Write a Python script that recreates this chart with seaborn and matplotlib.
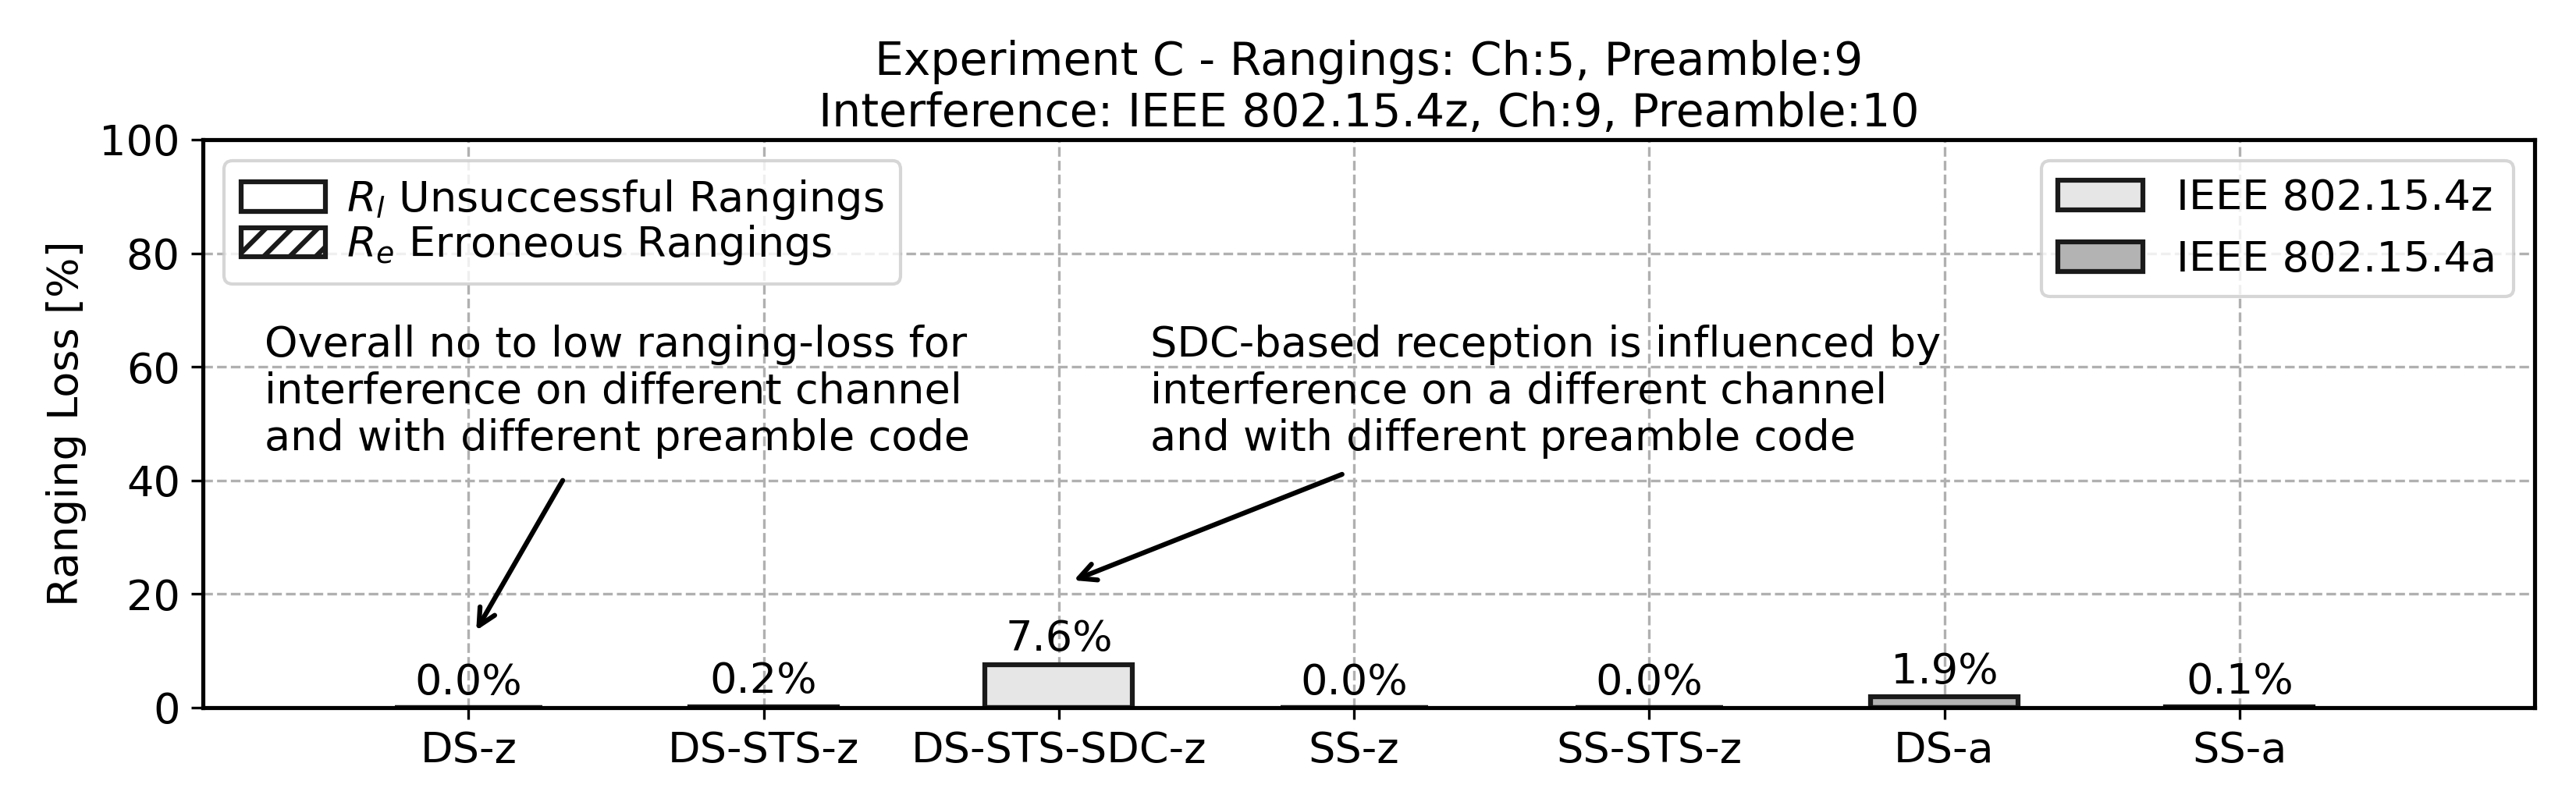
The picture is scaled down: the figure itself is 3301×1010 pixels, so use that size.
import numpy as np
import pandas as pd
import matplotlib
matplotlib.use("Agg")
import matplotlib.pyplot as plt
from matplotlib.patches import Patch
import seaborn as sns

# data
configs = ["DS-z", "DS-STS-z", "DS-STS-SDC-z", "SS-z", "SS-STS-z", "DS-a", "SS-a"]
standard = ["IEEE 802.15.4z"] * 5 + ["IEEE 802.15.4a"] * 2
loss_unsuccessful = [0.0, 0.2, 7.6, 0.0, 0.0, 1.9, 0.1]
loss_erroneous = [0.0, 0.0, 0.0, 0.0, 0.0, 0.0, 0.0]
standard_colors = {"IEEE 802.15.4z": "#e6e6e6", "IEEE 802.15.4a": "#b3b3b3"}

sns.set_style("ticks")
plt.rcParams["font.family"] = ["DejaVu Sans"]
plt.rcParams["font.size"] = 13
plt.rcParams["axes.edgecolor"] = "black"
plt.rcParams["axes.linewidth"] = 1.25
plt.rcParams["text.color"] = "black"
plt.rcParams["axes.labelcolor"] = "black"
plt.rcParams["xtick.color"] = "black"
plt.rcParams["ytick.color"] = "black"
plt.rcParams["xtick.labelsize"] = 13
plt.rcParams["ytick.labelsize"] = 13
plt.rcParams["hatch.linewidth"] = 1.5

df = pd.DataFrame({
    "Config": configs,
    "Standard": standard,
    "Unsuccessful": loss_unsuccessful,
    "Erroneous": loss_erroneous,
})
df["Total"] = df["Unsuccessful"] + df["Erroneous"]

fig, ax = plt.subplots(figsize=(3301 / 300, 1010 / 300), dpi=300)
fig.subplots_adjust(left=260 / 3301, right=3248 / 3301, top=1 - 179 / 1010, bottom=1 - 907 / 1010)

sns.barplot(
    data=df, x="Config", y="Unsuccessful", hue="Standard", palette=standard_colors,
    dodge=False, width=0.5, edgecolor="#1a1a1a", linewidth=1.5, legend=False, ax=ax,
)
sns.barplot(
    data=df, x="Config", y="Erroneous", color="white", fill=False, hatch="///",
    width=0.5, edgecolor="#1a1a1a", linewidth=1.5, ax=ax,
)

# seaborn switches off the grid on the categorical axis, so turn it back on
ax.set_axisbelow(True)
ax.grid(True, axis="both", linestyle="--", color="#b0b0b0", linewidth=0.8)

for i, row in df.iterrows():
    ax.annotate(f"{row['Total']:.1f}%", (i, row["Total"]), xytext=(0, 1.5),
                textcoords="offset points", ha="center", va="bottom", fontsize=13)

ax.set_xlim(-0.9, 7.0)
ax.set_ylim(0, 100)
ax.set_yticks(np.arange(0, 101, 20))
ax.set_xlabel("")
ax.set_ylabel("Ranging Loss [%]", fontsize=13)
ax.set_title("Experiment C - Rangings: Ch:5, Preamble:9\nInterference: IEEE 802.15.4z, Ch:9, Preamble:10",
             fontsize=14, pad=4)

ax.text(-0.69, 67.5, "Overall no to low ranging-loss for\ninterference on different channel\nand with different preamble code",
        ha="left", va="top", fontsize=13)
ax.annotate("", xy=(0.015, 12.6), xytext=(0.33, 41),
            arrowprops=dict(arrowstyle="->", color="black", lw=1.5))
ax.text(2.31, 67.5, "SDC-based reception is influenced by\ninterference on a different channel\nand with different preamble code",
        ha="left", va="top", fontsize=13)
ax.annotate("", xy=(2.03, 22.0), xytext=(2.98, 41.5),
            arrowprops=dict(arrowstyle="->", color="black", lw=1.5))

type_handles = [
    Patch(facecolor="white", edgecolor="#1a1a1a", linewidth=1.5),
    Patch(facecolor="white", edgecolor="#1a1a1a", linewidth=1.5, hatch="///"),
]
leg1 = ax.legend(type_handles, [r"$R_l$ Unsuccessful Rangings", r"$R_e$ Erroneous Rangings"],
                 loc="upper left", fontsize=13, labelspacing=0.05, handletextpad=0.5)
ax.add_artist(leg1)
std_handles = [Patch(facecolor=c, edgecolor="#1a1a1a", linewidth=1.5) for c in standard_colors.values()]
ax.legend(std_handles, list(standard_colors.keys()), loc="upper right", fontsize=13)

fig.savefig("out.png", dpi=300)
